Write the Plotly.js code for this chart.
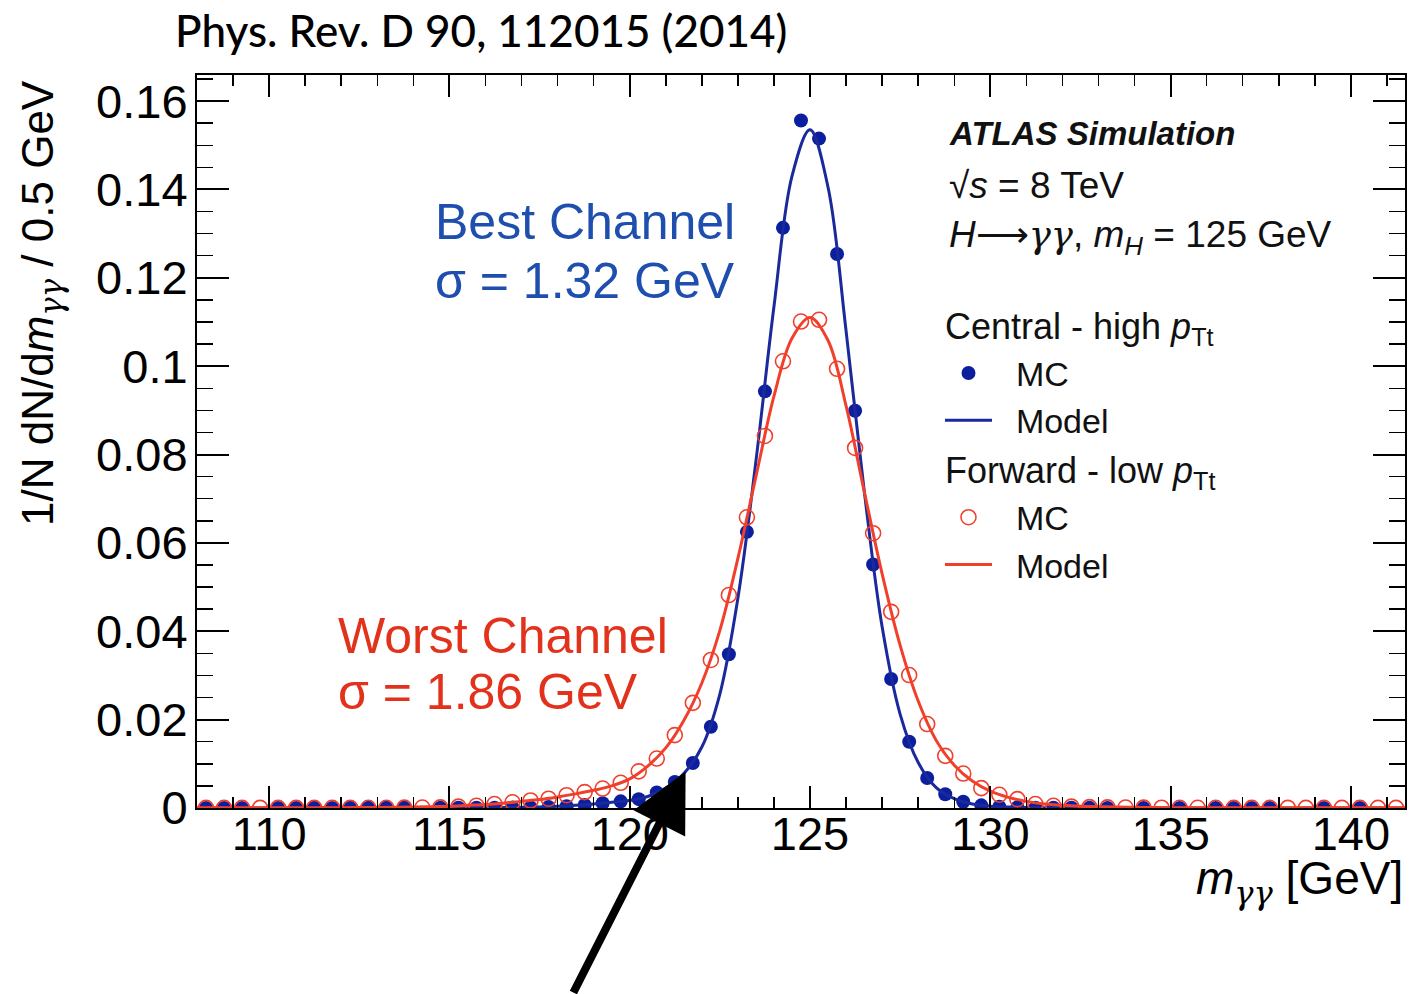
<!DOCTYPE html>
<html>
<head>
<meta charset="utf-8">
<script src="https://cdn.plot.ly/plotly-3.0.1.min.js"></script>
<style>
  html, body { margin: 0; padding: 0; background: #fff; }
  #chart { width: 1409px; height: 994px; }
</style>
</head>
<body>
<div id="chart"></div>
<script>
// Histogram binning of the diphoton mass (GeV)
const massLow = 108;
const massHigh = 141.5;
const binWidth = 0.5;

// Central - high pTt : normalised MC histogram (null = empty bin)
const centralMC = [
  0.00002, 0.00002, 0.00002, null, 0.00002, 0.00002, 0.00003, 0.00002,
  0.00003, 0.00003, 0.00003, 0.00003, null, 0.00004, 0.00004, 0.00005,
  0.00006, 0.0001, 0.00015, 0.00025, 0.0004, 0.0007, 0.0011, 0.0015,
  0.0020, 0.0035, 0.0059, 0.0102, 0.0184, 0.0348, 0.0625, 0.0943,
  0.1313, 0.1556, 0.1515, 0.1254, 0.0899, 0.0551, 0.0292, 0.0150,
  0.0068, 0.0031, 0.0014, 0.0006, 0.0003, 0.00015, 0.00008, 0.00005,
  0.00004, 0.00003, 0.00002, null, 0.00002, null, 0.00002, null,
  0.00002, 0.00002, 0.00001, 0.00001, null, null, 0.00001, null,
  0.00001, null, null
];

// Forward - low pTt : normalised MC histogram
const forwardMC = [
  0.00003, 0.00003, 0.00003, 0.00003, 0.00003, 0.00003, 0.00003, 0.00003,
  0.00003, 0.00004, 0.00005, 0.00008, 0.0001, 0.00015, 0.0003, 0.0005,
  0.0009, 0.0013, 0.0017, 0.0021, 0.0029, 0.0036, 0.0044, 0.0057,
  0.0083, 0.0112, 0.0165, 0.0238, 0.0335, 0.0482, 0.0658, 0.0842,
  0.1011, 0.1101, 0.1105, 0.0994, 0.0815, 0.0622, 0.0444, 0.0301,
  0.0190, 0.0118, 0.0078, 0.0045, 0.0030, 0.0020, 0.0009, 0.0005,
  0.0003, 0.0002, 0.00015, 0.0001, 0.00008, 0.00006, 0.00005, 0.00004,
  0.00004, 0.00003, 0.00003, 0.00003, 0.00003, 0.00003, 0.00003, 0.00003,
  0.00003, 0.00003, 0.00003
];

// Signal model curves, sampled every 0.5 GeV from 108 to 141.5 GeV
const centralModel = [
  0.00002, 0.00002, 0.00002, 0.00002, 0.00002, 0.00002, 0.00002, 0.00003,
  0.00003, 0.00003, 0.00003, 0.00003, 0.00004, 0.00004, 0.00005, 0.00005,
  0.00006, 0.0001, 0.00015, 0.00025, 0.0004, 0.0006, 0.0009, 0.0013,
  0.0017, 0.0026, 0.0045, 0.0078, 0.0138, 0.0258, 0.0475, 0.0785,
  0.1135, 0.1430, 0.1535, 0.1405, 0.1080, 0.0720, 0.0410, 0.0212,
  0.0103, 0.0046, 0.0021, 0.0009, 0.0004, 0.0002, 0.0001, 0.00006,
  0.00004, 0.00003, 0.00003, 0.00002, 0.00002, 0.00002, 0.00002, 0.00002,
  0.00002, 0.00001, 0.00001, 0.00001, 0.00001, 0.00001, 0.00001, 0.00001,
  0.00001, 0.00001, 0.00001, 0.00001
];
const forwardModel = [
  0.00003, 0.00003, 0.00003, 0.00004, 0.00004, 0.00005, 0.00006, 0.00007,
  0.00008, 0.0001, 0.00012, 0.00015, 0.0002, 0.0003, 0.0004, 0.0006,
  0.0008, 0.0011, 0.0015, 0.0019, 0.0025, 0.0032, 0.0040, 0.0050,
  0.0066, 0.0095, 0.0136, 0.0198, 0.0283, 0.0402, 0.0565, 0.0750,
  0.0932, 0.1063, 0.1110, 0.1058, 0.0910, 0.0718, 0.0530, 0.0368,
  0.0242, 0.0153, 0.0097, 0.0061, 0.0038, 0.0024, 0.0015, 0.0009,
  0.0006, 0.0004, 0.0003, 0.0002, 0.00015, 0.0001, 0.00008, 0.00006,
  0.00005, 0.00005, 0.00004, 0.00004, 0.00004, 0.00003, 0.00003, 0.00003,
  0.00003, 0.00003, 0.00003, 0.00003
];

// Axis tick labels
const yTickVals = [0, 0.02, 0.04, 0.06, 0.08, 0.1, 0.12, 0.14, 0.16];
const yTickText = ['0', '0.02', '0.04', '0.06', '0.08', '0.1', '0.12', '0.14', '0.16'];

// bin centres and model sampling points
const binCentres = centralMC.map((_, i) => massLow + (i + 0.5) * binWidth);
const modelMass = centralModel.map((_, i) => massLow + i * binWidth);

const BLUE = '#0b1f9e';
const BLUE_LINE = '#1a2a9c';
const RED = '#f0402c';
const FONT = 'Liberation Sans, Arial, Helvetica, sans-serif';
const GAMMA = '<span style="font-family:DejaVu Serif"><i>γγ</i></span>';

// helper: paper coordinates from a pixel position in the 1409x994 page
const PLOT_L = 197, PLOT_W = 1208, PLOT_B = 806, PLOT_H = 731;
const px = (x) => (x - PLOT_L) / PLOT_W;
const py = (y) => (PLOT_B - y) / PLOT_H;

const traces = [
  {
    x: binCentres, y: centralMC, type: 'scatter', mode: 'markers',
    name: '  MC', legendgroup: 'central',
    legendgrouptitle: { text: 'Central - high <i>p</i><sub>Tt</sub>', font: { family: FONT, size: 36, color: '#111' } },
    marker: { symbol: 'circle', size: 14, color: BLUE },
    hoverinfo: 'x+y'
  },
  {
    x: modelMass, y: centralModel, type: 'scatter', mode: 'lines',
    name: '  Model', legendgroup: 'central',
    line: { color: BLUE_LINE, width: 3, shape: 'spline', smoothing: 1 },
    hoverinfo: 'x+y'
  },
  {
    x: binCentres, y: forwardMC, type: 'scatter', mode: 'markers',
    name: '  MC', legendgroup: 'forward',
    legendgrouptitle: { text: 'Forward - low <i>p</i><sub>Tt</sub>', font: { family: FONT, size: 36, color: '#111' } },
    marker: { symbol: 'circle-open', size: 15, color: RED, line: { width: 1.6, color: RED } },
    hoverinfo: 'x+y'
  },
  {
    x: modelMass, y: forwardModel, type: 'scatter', mode: 'lines',
    name: '  Model', legendgroup: 'forward',
    line: { color: RED, width: 3, shape: 'spline', smoothing: 1 },
    hoverinfo: 'x+y'
  }
];

const textAnn = (x, y, text, size, color, extra) => Object.assign({
  xref: 'paper', yref: 'paper', x: px(x), y: py(y), xanchor: 'left', yanchor: 'middle',
  text: text, showarrow: false, font: { family: FONT, size: size, color: color }
}, extra || {});

const layout = {
  width: 1409, height: 994,
  paper_bgcolor: '#fff', plot_bgcolor: '#fff',
  margin: { l: 197, r: 4, t: 75, b: 186, pad: 0 },
  font: { family: FONT, color: '#000' },
  title: {
    text: 'Phys. Rev. D 90, 112015 (2014)',
    font: { family: 'Lato, Open Sans, sans-serif', size: 44, color: '#000', weight: 500 },
    xref: 'container', x: 175 / 1409, xanchor: 'left',
    yref: 'container', y: 1 - 32 / 994, yanchor: 'middle'
  },
  xaxis: {
    range: [massLow, massHigh],
    showline: true, linecolor: '#000', linewidth: 2, mirror: 'ticks',
    ticks: 'inside', ticklen: 22, tickwidth: 2, tickcolor: '#000',
    tickmode: 'linear', tick0: 110, dtick: 5,
    minor: { ticks: 'inside', tickmode: 'linear', tick0: 108, dtick: 1, ticklen: 11, tickwidth: 1.5, tickcolor: '#000' },
    showgrid: false, zeroline: false,
    tickfont: { family: FONT, size: 47, color: '#000' },
    ticklabelstandoff: -16
  },
  yaxis: {
    range: [0, 0.1659],
    showline: true, linecolor: '#000', linewidth: 2, mirror: 'ticks',
    ticks: 'inside', ticklen: 32, tickwidth: 2, tickcolor: '#000',
    tickmode: 'array', tickvals: yTickVals, ticktext: yTickText,
    minor: { ticks: 'inside', tickmode: 'linear', tick0: 0, dtick: 0.005, ticklen: 16, tickwidth: 1.5, tickcolor: '#000' },
    showgrid: false, zeroline: false,
    tickfont: { family: FONT, size: 47, color: '#000' },
    ticklabelstandoff: -2
  },
  showlegend: true,
  legend: {
    x: px(940), xanchor: 'left',
    y: py(294), yanchor: 'top',
    bgcolor: 'rgba(0,0,0,0)', borderwidth: 0,
    font: { family: FONT, size: 34, color: '#111' },
    traceorder: 'grouped', tracegroupgap: 0, itemwidth: 47
  },
  annotations: [
    textAnn(947, 133, '<b><i>ATLAS Simulation</i></b>', 33, '#111'),
    textAnn(947, 185, '√<i>s</i> = 8 TeV', 37, '#111'),
    textAnn(947, 236, '<i>H</i>⟶' + GAMMA + ', <i>m</i><sub><i>H</i></sub> = 125 GeV', 37, '#111'),
    textAnn(433, 222, 'Best Channel', 50, '#1f4fae'),
    textAnn(433, 280, 'σ = 1.32 GeV', 50, '#1f4fae'),
    textAnn(336, 634, 'Worst Channel', 50, '#e2321c'),
    textAnn(336, 690, 'σ = 1.86 GeV', 50, '#e2321c'),
    { xref: 'paper', yref: 'paper', x: 1, y: py(880), xanchor: 'right', yanchor: 'middle',
      text: '<i>m</i><sub>' + GAMMA + '</sub> [GeV]', showarrow: false, font: { family: FONT, size: 46, color: '#000' } },
    { xref: 'paper', yref: 'paper', x: px(41), y: py(78), xanchor: 'center', yanchor: 'top', textangle: -90,
      text: '1/N dN/d<i>m</i><sub>' + GAMMA + '</sub> / 0.5 GeV', showarrow: false, font: { family: FONT, size: 44, color: '#000' } },
    // pointer to the low-mass tail of the best-channel peak
    { xref: 'x', yref: 'y', x: 121.55, y: 0.0082, text: '', showarrow: true,
      axref: 'pixel', ayref: 'pixel', ax: -113, ay: 224,
      arrowhead: 2, arrowsize: 1.45, arrowwidth: 8, arrowcolor: '#000' }
  ]
};

Plotly.newPlot('chart', traces, layout, { displayModeBar: false, staticPlot: true });
</script>
</body>
</html>
